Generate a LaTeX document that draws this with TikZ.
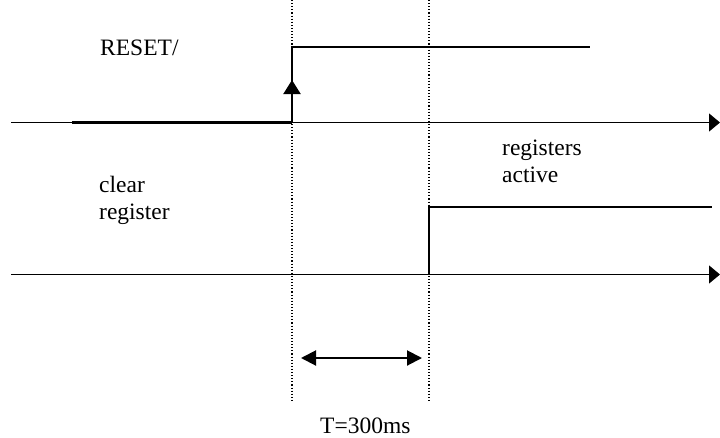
\documentclass[tikz,border=0pt]{standalone}
\usepackage{fontspec}
\setmainfont{Liberation Serif}
\usetikzlibrary{arrows.meta}
\begin{document}
\begin{tikzpicture}[x=1pt,y=-1pt,
  axisline/.style={line width=1.3pt,-{Triangle[length=11pt,width=18pt]}},
  signal/.style={line width=2pt},
  guide/.style={line width=1.1pt,dash pattern=on 1.1pt off 2pt},
  edgearrow/.style={line width=2pt,-{Triangle[length=14pt,width=17pt]}},
  spanarrow/.style={line width=2pt,{Triangle[length=15pt,width=15pt]}-{Triangle[length=15pt,width=15pt]}},
  lbl/.style={anchor=base west,inner sep=0pt,font=\fontsize{23.5}{27}\selectfont}]
\useasboundingbox (0,0) rectangle (720,437);
% coordinates
\coordinate (a1s) at (11,122.5);
\coordinate (a1e) at (720,122.5);
\coordinate (a2s) at (11,274.5);
\coordinate (a2e) at (720,274.5);
\coordinate (g1t) at (292,0);
\coordinate (g1b) at (292,401);
\coordinate (g2t) at (429,0);
\coordinate (g2b) at (429,401);
\coordinate (r0) at (72,122.5);
\coordinate (r1) at (292,122.5);
\coordinate (r2) at (292,46.5);
\coordinate (r3) at (590,46.5);
\coordinate (rarr) at (292,80);
\coordinate (c1) at (429,274.5);
\coordinate (c2) at (429,207);
\coordinate (c3) at (712,207);
\coordinate (d1) at (301,358);
\coordinate (d2) at (422,358);
% guides
\draw[guide] (g1t) -- (g1b);
\draw[guide] (g2t) -- (g2b);
% axes
\draw[axisline] (a1s) -- (a1e);
\draw[axisline] (a2s) -- (a2e);
% RESET signal
\draw[line width=2.6pt] (r0) -- (r1);
\draw[signal] (r1) -- (r2) -- (r3);
\draw[edgearrow] (r1) -- (rarr);
% register signal
\draw[signal] (c1) -- (c2) -- (c3);
% span arrow
\draw[spanarrow] (d1) -- (d2);
% labels
\node[lbl] (reset) at (100,55) {RESET/};
\node[lbl] (clear) at (99,192) {clear};
\node[lbl] (register) at (99,219) {register};
\node[lbl] (registers) at (502,155) {registers};
\node[lbl] (active) at (502,182) {active};
\node[lbl] (tlabel) at (320,433) {T=300ms};
\end{tikzpicture}
\end{document}
